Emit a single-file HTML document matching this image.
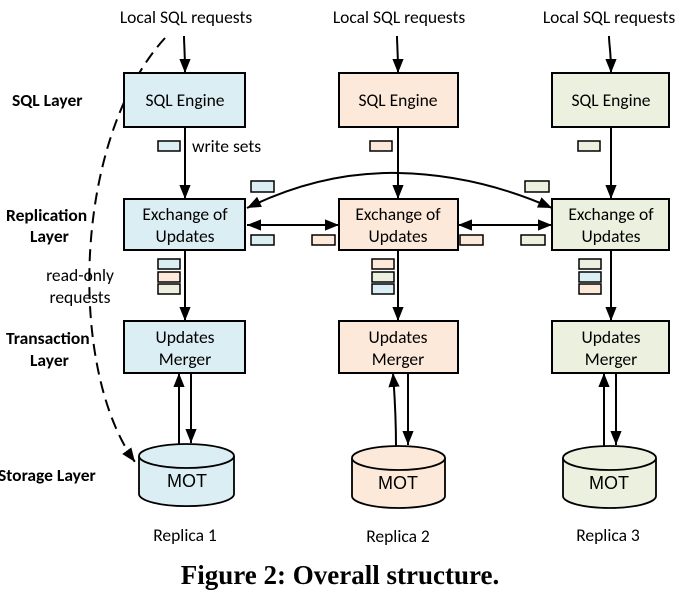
<!DOCTYPE html>
<html><head><style>
body{margin:0;background:#fff;}
svg{display:block;font-family:"Carlito","Liberation Sans",sans-serif;}
</style></head><body>
<svg width="687" height="601" viewBox="0 0 687 601">
<defs>
<marker id="b" viewBox="0 0 10 10" refX="10" refY="5" markerWidth="14" markerHeight="14" markerUnits="userSpaceOnUse" orient="auto-start-reverse"><path d="M0,1 L10,5 L0,9z" fill="#000"/></marker>
</defs>
<g font-size="17.5" fill="#000">
<text x="186" y="23" text-anchor="middle">Local SQL requests</text>
<text x="399" y="23" text-anchor="middle">Local SQL requests</text>
<text x="609" y="23" text-anchor="middle">Local SQL requests</text>
</g>
<g font-size="17.5" font-weight="bold">
<text x="12" y="106">SQL Layer</text>
<text x="6" y="221">Replication</text>
<text x="30" y="242">Layer</text>
<text x="6" y="344">Transaction</text>
<text x="30" y="366">Layer</text>
<text x="-2" y="481">Storage Layer</text>
</g>
<g font-size="17.5">
<text x="80" y="281" text-anchor="middle">read-only</text>
<text x="80" y="303" text-anchor="middle">requests</text>
<text x="192" y="152">write sets</text>
</g>
<g stroke="#000" stroke-width="2" fill="none">
<path d="M184,36 C184,45 185,50 185,73" marker-end="url(#b)"/>
<path d="M397,36 C397,45 398,50 398,73" marker-end="url(#b)"/>
<path d="M609,36 C609,45 611,50 611,73" marker-end="url(#b)"/>
<path d="M185,127 V199" marker-end="url(#b)"/>
<path d="M398,127 V199" marker-end="url(#b)"/>
<path d="M611,127 V199" marker-end="url(#b)"/>
<path d="M185,250 V321" marker-end="url(#b)"/>
<path d="M398,250 V321" marker-end="url(#b)"/>
<path d="M611,250 V321" marker-end="url(#b)"/>
<path d="M179,444 V373" marker-end="url(#b)"/>
<path d="M191,373 V443" marker-end="url(#b)"/>
<path d="M396,446 C396,420 395,400 393,373" marker-end="url(#b)"/>
<path d="M408,373 V445" marker-end="url(#b)"/>
<path d="M604,446 V373" marker-end="url(#b)"/>
<path d="M616,373 V445" marker-end="url(#b)"/>
<path d="M247,225 H339" marker-start="url(#b)" marker-end="url(#b)"/>
<path d="M458,225 H552" marker-start="url(#b)" marker-end="url(#b)"/>
<path d="M247,208 C300,182 350,172 398,173 C450,174 500,185 552,208" marker-start="url(#b)" marker-end="url(#b)"/>
<path d="M165,38 C72,140 68,370 135,462" stroke-dasharray="12,7" marker-end="url(#b)"/>
</g>
<g stroke="#000" stroke-width="2">
<rect x="124" y="73" width="121" height="54" fill="#dbeef4"/>
<rect x="339" y="73" width="119" height="54" fill="#fde9d9"/>
<rect x="552" y="73" width="117" height="54" fill="#ebf1de"/>
<rect x="124" y="199" width="121" height="51" fill="#dbeef4"/>
<rect x="339" y="199" width="119" height="51" fill="#fde9d9"/>
<rect x="552" y="199" width="117" height="51" fill="#ebf1de"/>
<rect x="124" y="321" width="121" height="52" fill="#dbeef4"/>
<rect x="339" y="321" width="119" height="52" fill="#fde9d9"/>
<rect x="552" y="321" width="117" height="52" fill="#ebf1de"/>
</g>
<g font-size="17.5" text-anchor="middle">
<text x="185" y="106">SQL Engine</text>
<text x="398" y="106">SQL Engine</text>
<text x="611" y="106">SQL Engine</text>
<text x="185" y="220">Exchange of</text><text x="185" y="242">Updates</text>
<text x="398" y="220">Exchange of</text><text x="398" y="242">Updates</text>
<text x="611" y="220">Exchange of</text><text x="611" y="242">Updates</text>
<text x="185" y="343">Updates</text><text x="185" y="365">Merger</text>
<text x="398" y="343">Updates</text><text x="398" y="365">Merger</text>
<text x="611" y="343">Updates</text><text x="611" y="365">Merger</text>
</g>
<g stroke="#000" stroke-width="1.5">
<rect x="158" y="141" width="22" height="10" fill="#dbeef4"/>
<rect x="370" y="141" width="22" height="10" fill="#fde9d9"/>
<rect x="578" y="141" width="22" height="10" fill="#ebf1de"/>
<rect x="251" y="181" width="23" height="11" fill="#dbeef4"/>
<rect x="525" y="181" width="24" height="11" fill="#ebf1de"/>
<rect x="251" y="235" width="23" height="10" fill="#dbeef4"/>
<rect x="312" y="235" width="23" height="10" fill="#fde9d9"/>
<rect x="460" y="235" width="23" height="10" fill="#fde9d9"/>
<rect x="521" y="235" width="24" height="10" fill="#ebf1de"/>
<rect x="158" y="259" width="22" height="10" fill="#dbeef4"/>
<rect x="158" y="272" width="22" height="10" fill="#fde9d9"/>
<rect x="158" y="284" width="22" height="10" fill="#ebf1de"/>
<rect x="372" y="259" width="22" height="10" fill="#fde9d9"/>
<rect x="372" y="272" width="22" height="10" fill="#ebf1de"/>
<rect x="372" y="284" width="22" height="10" fill="#dbeef4"/>
<rect x="579" y="259" width="22" height="10" fill="#ebf1de"/>
<rect x="579" y="272" width="22" height="10" fill="#dbeef4"/>
<rect x="579" y="284" width="22" height="10" fill="#fde9d9"/>
</g>
<g stroke="#000" stroke-width="1.8">
<path d="M139,456 V494 A47,12 0 0 0 234,494 V456" fill="#dbeef4"/>
<ellipse cx="186.5" cy="456" rx="47.5" ry="12" fill="#dbeef4"/>
<path d="M352,458 V496 A46.5,12 0 0 0 445,496 V458" fill="#fde9d9"/>
<ellipse cx="398.5" cy="458" rx="46.5" ry="12" fill="#fde9d9"/>
<path d="M563,458 V496 A46.5,12 0 0 0 656,496 V458" fill="#ebf1de"/>
<ellipse cx="609.5" cy="458" rx="46.5" ry="12" fill="#ebf1de"/>
</g>
<g font-family="Liberation Sans,sans-serif" font-size="18" text-anchor="middle">
<text x="187" y="487">MOT</text>
<text x="398" y="489">MOT</text>
<text x="609" y="489">MOT</text>
</g>
<g font-size="17.5" text-anchor="middle">
<text x="185" y="541">Replica 1</text>
<text x="398" y="542">Replica 2</text>
<text x="608" y="541">Replica 3</text>
</g>
<text x="340" y="584" text-anchor="middle" font-family="Liberation Serif,serif" font-weight="bold" font-size="27">Figure 2: Overall structure.</text>
</svg>
</body></html>
